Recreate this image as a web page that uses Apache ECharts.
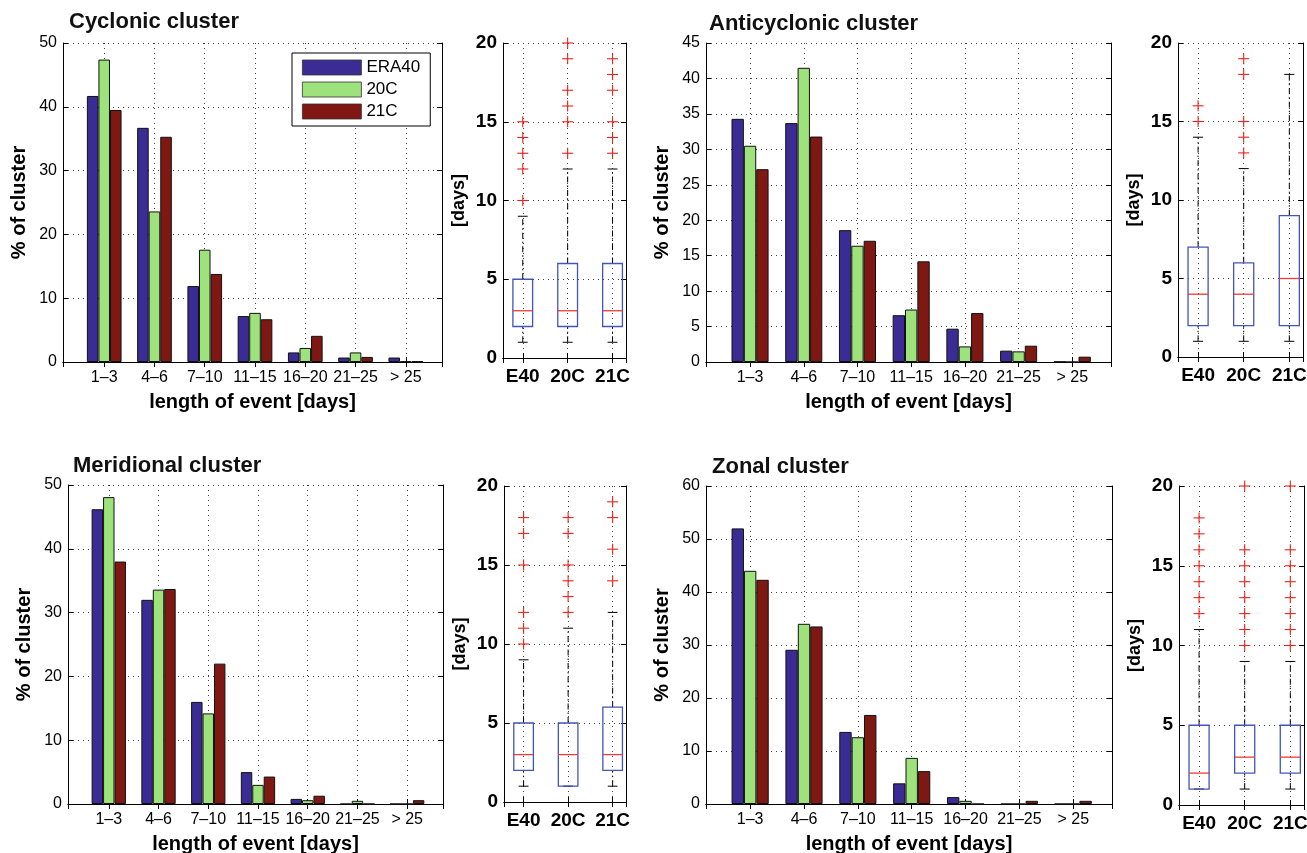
<!DOCTYPE html>
<html>
<head>
<meta charset="utf-8">
<title>Length of events per cluster</title>
<script src="https://cdn.jsdelivr.net/npm/echarts@6/dist/echarts.min.js"></script>
<style>
html, body { margin: 0; padding: 0; background: #fff; }
#container { width: 1307px; height: 853px; }
</style>
</head>
<body>
<div id="container"></div>
<script>
var lengthBins = ['1–3', '4–6', '7–10', '11–15', '16–20', '21–25', '> 25'];
var runNames = ['ERA40', '20C', '21C'];
var runColors = ['#3a2c94', '#9de27a', '#7f1813'];
var boxLabels = ['E40', '20C', '21C'];

// % of cluster, one value per length bin
var cycERA40 = [41.7, 36.7, 11.9, 7.2, 1.5, 0.7, 0.7];
var cyc20C   = [47.4, 23.6, 17.6, 7.7, 2.2, 1.5, 0.1];
var cyc21C   = [39.5, 35.3, 13.8, 6.7, 4.1, 0.8, 0.1];
var antERA40 = [34.3, 33.7, 18.6, 6.6, 4.7, 1.6, 0.05];
var ant20C   = [30.5, 41.5, 16.4, 7.4, 2.2, 1.5, 0];
var ant21C   = [27.2, 31.8, 17.1, 14.2, 6.9, 2.3, 0.75];
var merERA40 = [46.2, 32.0, 16.0, 5.0, 0.8, 0, 0];
var mer20C   = [48.1, 33.6, 14.2, 3.0, 0.6, 0.5, 0];
var mer21C   = [38.0, 33.7, 22.0, 4.3, 1.3, 0, 0.6];
var zonERA40 = [52.0, 29.1, 13.6, 3.9, 1.3, 0, 0];
var zon20C   = [44.0, 34.0, 12.6, 8.7, 0.6, 0, 0];
var zon21C   = [42.3, 33.5, 16.8, 6.2, 0, 0.6, 0.6];

// boxplots: [lower whisker, q1, median, q3, upper whisker] in days, per run
var cycBox = [[1, 2, 3, 5, 9], [1, 2, 3, 6, 12], [1, 2, 3, 6, 12]];
var cycOut = [[10, 12, 13, 14, 15], [13, 15, 16, 17, 19, 20], [13, 14, 15, 17, 18, 19]];
var antBox = [[1, 2, 4, 7, 14], [1, 2, 4, 6, 12], [1, 2, 5, 9, 18]];
var antOut = [[15, 16], [13, 14, 15, 18, 19], []];
var merBox = [[1, 2, 3, 5, 9], [1, 1, 3, 5, 11], [1, 2, 3, 6, 12]];
var merOut = [[10, 11, 12, 15, 17, 18], [12, 13, 14, 15, 17, 18], [14, 16, 18, 19]];
var zonBox = [[1, 1, 2, 5, 11], [1, 2, 3, 5, 9], [1, 2, 3, 5, 9]];
var zonOut = [[12, 13, 14, 15, 16, 17, 18], [10, 11, 12, 13, 14, 15, 16, 20], [10, 11, 12, 13, 14, 15, 16, 20]];

var FONT = 'Liberation Sans, Arial, Helvetica, sans-serif';

var panels = [
    { title: 'Cyclonic cluster', tpos: [69, 11], bars: [cycERA40, cyc20C, cyc21C], yMax: 50, yStep: 10,
      grid: [63, 43, 379, 319], box: cycBox, out: cycOut, boxGrid: [503, 43, 123, 315] },
    { title: 'Anticyclonic cluster', tpos: [709, 13], bars: [antERA40, ant20C, ant21C], yMax: 45, yStep: 5,
      grid: [706, 43, 405, 319], box: antBox, out: antOut, boxGrid: [1178, 43, 125, 314] },
    { title: 'Meridional cluster', tpos: [73, 455], bars: [merERA40, mer20C, mer21C], yMax: 50, yStep: 10,
      grid: [68, 485, 375, 319], box: merBox, out: merOut, boxGrid: [504, 486, 122, 316] },
    { title: 'Zonal cluster', tpos: [712, 456], bars: [zonERA40, zon20C, zon21C], yMax: 60, yStep: 10,
      grid: [706, 486, 406, 318], box: zonBox, out: zonOut, boxGrid: [1179, 486, 125, 319] }
];

var grids = [], xAxes = [], yAxes = [], series = [], titles = [];

var frameLine = { show: true, lineStyle: { color: '#000', width: 1 } };
var tickIn = { show: true, inside: true, length: 5, lineStyle: { color: '#000', width: 1 } };
var dotted = { show: true, lineStyle: { color: '#444', width: 1, type: [1, 4] } };

function addFrame(g, x, y) {
    var gi = grids.length;
    grids.push({ left: g[0], top: g[1], width: g[2], height: g[3], containLabel: false, outerBoundsMode: 'none' });
    var fmt = function (v) {
        if (Math.abs(v - Math.round(v)) > 1e-6) return '';
        return x.labels[Math.round(v) - 1] || '';
    };
    xAxes.push({
        type: 'value', gridIndex: gi, position: 'bottom', min: x.min, max: x.max,
        minInterval: 1, maxInterval: 1,
        axisLine: frameLine, axisTick: tickIn, splitLine: dotted,
        axisLabel: { formatter: fmt, margin: x.margin, color: '#000', fontFamily: FONT,
                     fontSize: x.size, fontWeight: x.weight },
        name: x.name, nameLocation: 'middle', nameGap: x.nameGap,
        nameTextStyle: { color: '#000', fontFamily: FONT, fontSize: 20, fontWeight: 'bold' }
    });
    xAxes.push({
        type: 'value', gridIndex: gi, position: 'top', min: x.min, max: x.max,
        minInterval: 1, maxInterval: 1,
        axisLine: frameLine, axisTick: tickIn, splitLine: { show: false }, axisLabel: { show: false }
    });
    yAxes.push({
        type: 'value', gridIndex: gi, position: 'left', min: 0, max: y.max, interval: y.step,
        axisLine: frameLine, axisTick: tickIn, splitLine: dotted,
        axisLabel: { margin: 6, color: '#000', fontFamily: FONT, fontSize: y.size, fontWeight: y.weight },
        name: y.name, nameLocation: 'middle', nameRotate: 90, nameGap: y.nameGap,
        nameTextStyle: { color: '#000', fontFamily: FONT, fontSize: y.nameSize, fontWeight: 'bold' }
    });
    yAxes.push({
        type: 'value', gridIndex: gi, position: 'right', min: 0, max: y.max, interval: y.step,
        axisLine: frameLine, axisTick: tickIn, splitLine: { show: false }, axisLabel: { show: false }
    });
    return gi;
}

function renderBox(params, api) {
    var x = api.value(0);
    var lo = api.coord([x, api.value(1)]);
    var q1 = api.coord([x, api.value(2)]);
    var md = api.coord([x, api.value(3)]);
    var q3 = api.coord([x, api.value(4)]);
    var hi = api.coord([x, api.value(5)]);
    var unit = api.size([1, 0])[0];
    var hw = unit * 0.22, cw = unit * 0.11, cx = lo[0];
    var whisk = { stroke: '#000', lineWidth: 1, lineDash: [6, 3, 1.5, 3], fill: null };
    var solid = { stroke: '#000', lineWidth: 1, fill: null };
    return {
        type: 'group',
        children: [
            { type: 'line', shape: { x1: cx, y1: q3[1], x2: cx, y2: hi[1] }, style: whisk },
            { type: 'line', shape: { x1: cx, y1: lo[1], x2: cx, y2: q1[1] }, style: whisk },
            { type: 'line', shape: { x1: cx - cw, y1: hi[1], x2: cx + cw, y2: hi[1] }, style: solid },
            { type: 'line', shape: { x1: cx - cw, y1: lo[1], x2: cx + cw, y2: lo[1] }, style: solid },
            { type: 'rect', shape: { x: cx - hw, y: q3[1], width: 2 * hw, height: q1[1] - q3[1] },
              style: { fill: null, stroke: '#4455b8', lineWidth: 1.3 } },
            { type: 'line', shape: { x1: cx - hw, y1: md[1], x2: cx + hw, y2: md[1] },
              style: { stroke: '#e83c34', lineWidth: 1.3, fill: null } }
        ]
    };
}

function renderPlus(params, api) {
    var p = api.coord([api.value(0), api.value(1)]);
    var s = 5.5;
    var st = { stroke: '#e8241c', lineWidth: 1.1, fill: null };
    return {
        type: 'group',
        children: [
            { type: 'line', shape: { x1: p[0] - s, y1: p[1], x2: p[0] + s, y2: p[1] }, style: st },
            { type: 'line', shape: { x1: p[0], y1: p[1] - s, x2: p[0], y2: p[1] + s }, style: st }
        ]
    };
}

panels.forEach(function (pn) {
    titles.push({
        text: pn.title, left: pn.tpos[0], top: pn.tpos[1], padding: 0,
        textStyle: { color: '#111', fontFamily: FONT, fontSize: 22, fontWeight: 'bold' }
    });

    var gi = addFrame(pn.grid,
        { min: 0.18, max: 7.72, labels: lengthBins, size: 16, weight: 'normal', margin: 8,
          name: 'length of event [days]', nameGap: 30 },
        { max: pn.yMax, step: pn.yStep, size: 16, weight: 'normal',
          name: '% of cluster', nameGap: 34, nameSize: 20 });
    pn.bars.forEach(function (vals, k) {
        series.push({
            name: runNames[k], type: 'bar', xAxisIndex: 2 * gi, yAxisIndex: 2 * gi,
            barWidth: '23%', barGap: '0%',
            itemStyle: { color: runColors[k], borderColor: '#111', borderWidth: 1 },
            data: vals.map(function (v, i) { return [i + 1, v]; })
        });
    });

    var bi = addFrame(pn.boxGrid,
        { min: 0.56, max: 3.3, labels: boxLabels, size: 19, weight: 'bold', margin: 9,
          name: '', nameGap: 30 },
        { max: 20, step: 5, size: 19, weight: 'bold',
          name: '[days]', nameGap: 35, nameSize: 18 });
    series.push({
        type: 'custom', xAxisIndex: 2 * bi, yAxisIndex: 2 * bi, renderItem: renderBox,
        encode: { x: 0, y: [1, 2, 3, 4, 5] }, z: 3,
        data: pn.box.map(function (b, i) { return [i + 1].concat(b); })
    });
    var outs = [];
    pn.out.forEach(function (list, i) {
        list.forEach(function (v) { outs.push([i + 1, v]); });
    });
    series.push({
        type: 'custom', xAxisIndex: 2 * bi, yAxisIndex: 2 * bi, renderItem: renderPlus,
        encode: { x: 0, y: 1 }, z: 4, clip: false, data: outs
    });
});

var myChart = echarts.init(document.getElementById('container'));
var option = {
    animation: false,
    backgroundColor: '#fff',
    title: titles,
    legend: {
        data: runNames, orient: 'vertical', left: 292, top: 53,
        padding: [6, 10, 6, 10], itemWidth: 59, itemHeight: 15, itemGap: 5,
        icon: 'rect', borderColor: '#000', borderWidth: 1, backgroundColor: '#fff',
        itemStyle: { borderColor: '#333', borderWidth: 0.8 },
        textStyle: { color: '#000', fontFamily: FONT, fontSize: 17 }
    },
    grid: grids,
    xAxis: xAxes,
    yAxis: yAxes,
    series: series
};
myChart.setOption(option, true);
</script>
</body>
</html>
